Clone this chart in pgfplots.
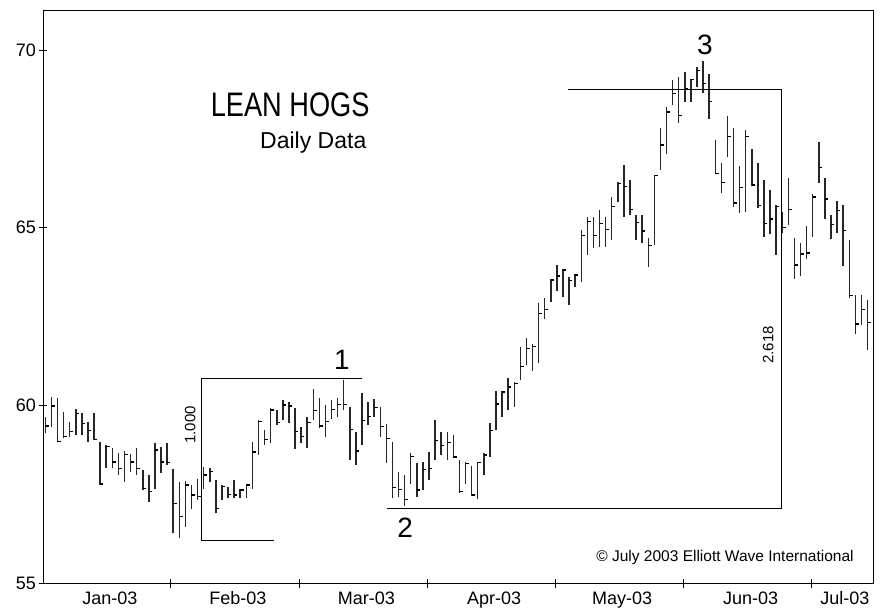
\documentclass[border=0pt]{standalone}
\usepackage{pgfplots}
\pgfplotsset{compat=1.18}
\usepackage{pgfplotstable}
\usepackage{fontspec}
\setmainfont{Liberation Sans}
\newfontfamily\narrowfont[FakeStretch=0.8]{Liberation Sans}

\pgfdeclareplotmark{rtick}{%
  \pgfpathmoveto{\pgfpoint{0pt}{0pt}}%
  \pgfpathlineto{\pgfpoint{\pgfplotmarksize}{0pt}}%
  \pgfusepathqstroke}

\pgfplotstableread{
i H L C
1 59.68 59.21 59.42
2 60.24 59.40 59.98
3 60.20 58.98 58.98
4 59.82 59.07 59.12
5 59.54 59.12 59.26
6 59.89 59.16 59.78
7 59.78 59.16 59.49
8 59.54 58.98 59.30
9 59.78 59.02 59.04
10 58.98 57.76 57.79
11 58.88 58.23 58.85
12 58.79 58.23 58.41
13 58.65 58.04 58.23
14 58.72 57.85 58.62
15 58.63 58.12 58.41
16 58.79 58.04 58.23
17 58.18 57.62 57.66
18 58.04 57.29 57.57
19 58.95 57.66 58.74
20 58.84 58.09 58.41
21 58.95 58.32 58.39
22 58.20 56.40 57.24
23 57.85 56.26 56.87
24 57.87 56.58 57.76
25 57.76 57.07 57.48
26 57.92 57.33 57.43
27 58.27 57.66 58.04
28 58.23 57.85 58.13
29 57.90 56.96 57.10
30 57.76 57.33 57.71
31 57.71 57.38 57.50
32 57.90 57.38 57.48
33 57.66 57.38 57.62
34 57.80 57.38 57.76
35 58.98 57.66 58.69
36 59.59 58.60 59.54
37 59.30 58.88 59.04
38 59.92 58.93 59.87
39 59.87 59.45 59.51
40 60.15 59.59 60.01
41 60.10 59.49 59.98
42 59.92 58.78 59.26
43 59.40 58.93 59.13
44 59.68 58.79 59.51
45 60.45 59.59 59.85
46 60.20 59.35 59.42
47 60.01 59.12 59.54
48 60.15 59.63 59.89
49 60.20 59.68 60.03
50 60.71 59.87 60.03
51 59.96 58.46 59.32
52 59.26 58.32 58.72
53 60.36 58.88 59.57
54 60.10 59.45 59.68
55 60.17 59.68 59.94
56 59.96 59.12 59.40
57 59.47 58.37 59.06
58 58.98 57.38 57.69
59 58.13 57.43 57.64
60 58.04 57.17 57.36
61 58.65 57.80 58.57
62 58.37 57.43 57.62
63 58.41 57.62 58.20
64 58.69 57.90 58.23
65 59.59 58.46 59.02
66 59.26 58.60 58.88
67 59.26 58.46 58.95
68 59.16 58.51 58.55
69 58.46 57.54 57.57
70 58.41 57.80 58.37
71 58.30 57.45 57.48
72 58.41 57.36 58.39
73 58.65 58.04 58.60
74 59.49 58.55 59.30
75 60.41 59.30 60.04
76 60.41 59.68 60.38
77 60.76 59.87 60.52
78 60.66 59.96 60.62
79 61.65 60.71 61.09
80 61.89 61.13 61.60
81 61.74 60.97 61.65
82 62.89 61.18 62.59
83 63.01 62.42 62.70
84 63.55 62.92 63.53
85 63.95 63.23 63.64
86 63.85 63.04 63.81
87 63.62 62.82 63.51
88 63.71 63.34 63.67
89 64.93 63.48 64.79
90 65.31 64.23 65.17
91 65.31 64.42 64.79
92 65.50 64.46 65.12
93 65.31 64.46 64.95
94 65.87 64.65 65.59
95 66.29 65.73 66.25
96 66.76 65.31 66.17
97 66.34 65.36 65.52
98 65.36 64.65 65.14
99 65.36 64.56 64.91
100 64.72 63.90 64.51
101 66.48 64.51 66.48
102 67.80 66.62 67.33
103 68.40 67.07 68.26
104 69.16 68.45 68.78
105 69.23 67.95 68.16
106 69.39 68.54 68.92
107 69.20 68.54 69.18
108 69.53 68.97 69.42
109 69.70 68.78 69.06
110 69.34 68.06 68.55
111 67.47 66.53 66.53
112 66.81 65.98 66.27
113 68.14 66.98 67.56
114 67.80 65.59 65.70
115 66.74 65.42 66.14
116 67.75 65.45 67.56
117 67.23 66.17 66.20
118 66.81 65.57 65.63
119 66.34 64.73 65.12
120 66.06 64.82 65.25
121 65.64 64.23 65.59
122 65.45 64.84 65.00
123 66.39 65.07 65.52
124 64.70 63.57 63.95
125 64.56 63.64 64.26
126 65.05 64.11 64.29
127 65.95 64.73 65.87
128 67.42 66.27 66.69
129 66.39 65.26 65.81
130 65.36 64.67 65.09
131 65.75 64.86 65.48
132 65.64 63.92 64.93
133 64.65 63.03 63.10
134 63.10 62.02 62.29
135 63.10 62.26 62.70
136 62.96 61.56 62.34
}\hogs

\begin{document}
\begin{tikzpicture}
\begin{axis}[
  scale only axis, width=830pt, height=573pt,
  xmin=0.62, xmax=136.9, ymin=55, ymax=71.13,
  axis line style={line width=0.8pt, black},
  ytick={55,60,65,70},
  xtick={21.59,42.67,63.69,84.71,105.7,126.8},
  xticklabels={},
  extra x ticks={11.6,32.6,53.7,74.7,95.7,116.8,132.3},
  extra x tick labels={Jan-03,Feb-03,Mar-03,Apr-03,May-03,Jun-03,Jul-03},
  extra x tick style={major tick length=0pt},
  xtick pos=bottom, ytick pos=left,
  tick align=center, major tick length=9pt,
  tick style={black, line width=0.8pt},
  tick label style={font=\fontsize{18}{18}\selectfont},
  x tick label style={text height=13pt, text depth=3pt, yshift=-5pt},
  y tick label style={xshift=1pt},
  /pgf/number format/assume math mode=true,
  clip=false,
]
\addplot[draw=none, mark=none,
  error bars/.cd, y dir=plus, y explicit, error mark=none,
  error bar style={line width=1.5pt, draw=black!85}]
  table[x=i, y=L, y error expr=\thisrow{H}-\thisrow{L}] {\hogs};
\addplot[only marks, mark=rtick, mark size=3.3pt,
  mark options={line width=1.3pt, draw=black}]
  table[x=i, y=C] {\hogs};

% wave 1 bracket
\draw[line width=0.8pt] (axis cs:26.57,60.77) -- (axis cs:53.01,60.77);
\draw[line width=0.8pt] (axis cs:26.57,60.77) -- (axis cs:26.57,56.21) -- (axis cs:38.56,56.21);
% wave 3 bracket
\draw[line width=0.8pt] (axis cs:86.84,68.90) -- (axis cs:121.82,68.90) -- (axis cs:121.82,57.11) -- (axis cs:57.12,57.11);

\node[font=\narrowfont\fontsize{34}{34}\selectfont] at (axis cs:41.2,68.45) {LEAN HOGS};
\node[font=\fontsize{23}{23}\selectfont] at (axis cs:45.0,67.40) {Daily Data};
\node[font=\fontsize{28}{28}\selectfont] at (axis cs:49.7,61.27) {1};
\node[font=\fontsize{28}{28}\selectfont] at (axis cs:60.1,56.57) {2};
\node[font=\fontsize{28}{28}\selectfont] at (axis cs:109.3,70.14) {3};
\node[rotate=90, font=\fontsize{15}{15}\selectfont] at (axis cs:24.8,59.45) {1.000};
\node[rotate=90, font=\fontsize{15}{15}\selectfont] at (axis cs:119.7,61.70) {2.618};
\node[anchor=east, font=\fontsize{15.5}{15.5}\selectfont] at (axis cs:134.3,55.73) {© July 2003 Elliott Wave International};
\end{axis}
\pgfresetboundingbox
\path (current axis.south west) ++(-43pt,-30pt) rectangle ++(882pt,613pt);
\end{tikzpicture}
\end{document}
